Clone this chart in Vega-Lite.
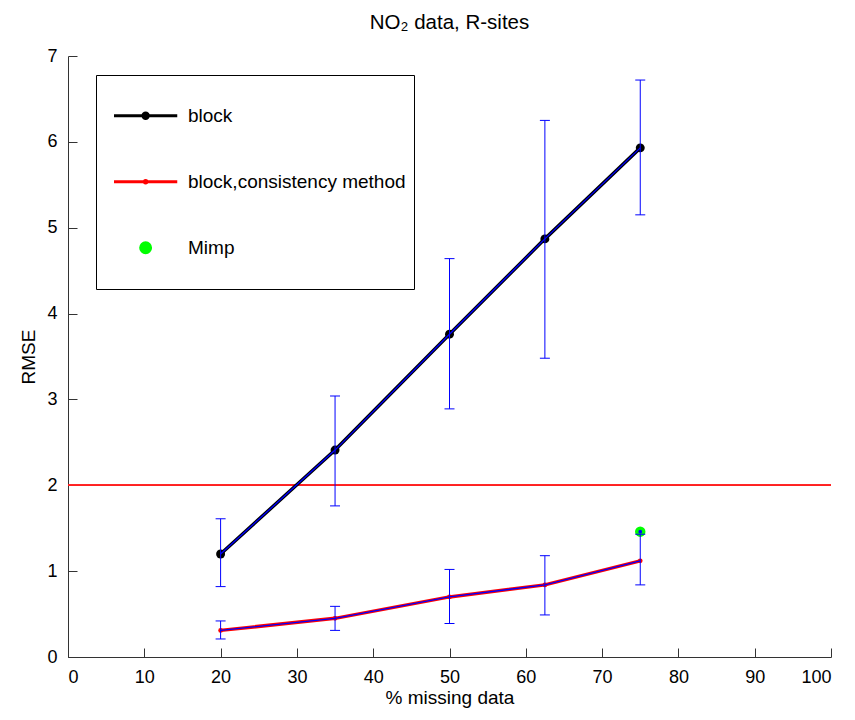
{
  "$schema": "https://vega.github.io/schema/vega-lite/v6.json",
  "width": 763,
  "height": 601,
  "autosize": {"type": "none"},
  "padding": {"left": 68, "top": 56, "right": 24, "bottom": 63},
  "background": "white",
  "title": {
    "text": "NO₂ data, R-sites",
    "font": "Liberation Sans",
    "fontSize": 20.5,
    "fontWeight": "normal",
    "color": "black",
    "offset": 14,
    "anchor": "middle"
  },
  "config": {
    "view": {"stroke": null},
    "font": "Liberation Sans",
    "axis": {
      "grid": false,
      "domainColor": "#333333",
      "domainWidth": 1,
      "tickColor": "#333333",
      "tickSize": -9,
      "labelFont": "Liberation Sans",
      "labelFontSize": 18,
      "labelColor": "black",
      "titleFont": "Liberation Sans",
      "titleFontSize": 19,
      "titleFontWeight": "normal",
      "titleColor": "black"
    },
    "legend": {
      "title": null,
      "orient": "none",
      "legendX": 28,
      "legendY": 19,
      "strokeColor": "black",
      "fillColor": "white",
      "padding": 8,
      "rowPadding": 0,
      "clipHeight": 65.5,
      "symbolSize": 4000,
      "symbolStrokeWidth": 3,
      "labelFont": "Liberation Sans",
      "labelFontSize": 19,
      "labelColor": "black",
      "labelOffset": 17,
      "labelLimit": 400
    }
  },
  "datasets": {
    "main": [
      {"series": "block", "x": 20, "y": 1.2, "lo": 0.82, "hi": 1.61},
      {"series": "block", "x": 35, "y": 2.41, "lo": 1.76, "hi": 3.04},
      {"series": "block", "x": 50, "y": 3.76, "lo": 2.89, "hi": 4.64},
      {"series": "block", "x": 62.5, "y": 4.87, "lo": 3.48, "hi": 6.25},
      {"series": "block", "x": 75, "y": 5.93, "lo": 5.15, "hi": 6.72},
      {"series": "block,consistency method", "x": 20, "y": 0.31, "lo": 0.21, "hi": 0.42},
      {"series": "block,consistency method", "x": 35, "y": 0.45, "lo": 0.31, "hi": 0.59},
      {"series": "block,consistency method", "x": 50, "y": 0.7, "lo": 0.39, "hi": 1.02},
      {"series": "block,consistency method", "x": 62.5, "y": 0.84, "lo": 0.49, "hi": 1.18},
      {"series": "block,consistency method", "x": 75, "y": 1.12, "lo": 0.84, "hi": 1.43},
      {"series": "Mimp", "x": 75, "y": 1.46}
    ]
  },
  "data": {"name": "main"},
  "encoding": {
    "x": {
      "field": "x",
      "type": "quantitative",
      "scale": {"domain": [0, 100], "nice": false, "zero": false},
      "axis": {"title": "% missing data", "values": [0,10,20,30,40,50,60,70,80,90,100], "labelPadding": 20, "titlePadding": 2}
    },
    "y": {
      "field": "y",
      "type": "quantitative",
      "scale": {"domain": [0, 7], "nice": false},
      "axis": {"title": "RMSE", "values": [0,1,2,3,4,5,6,7], "labelPadding": 20, "titlePadding": 8}
    }
  },
  "layer": [
    {
      "mark": {"type": "rule", "color": "#ff2020", "strokeWidth": 1.2},
      "encoding": {"y": {"datum": 2}, "x": {"datum": 0}, "x2": {"datum": 100}}
    },
    {
      "transform": [{"filter": "datum.series === 'block'"}],
      "mark": {"type": "line", "strokeWidth": 3.5, "color": "black"}
    },
    {
      "transform": [{"filter": "datum.series === 'block,consistency method'"}],
      "mark": {"type": "line", "strokeWidth": 3.5, "color": "#ff0000"}
    },
    {
      "transform": [{"filter": "datum.x < 0"}],
      "mark": {"type": "point", "filled": false, "opacity": 1},
      "encoding": {
        "color": {
          "field": "series",
          "type": "nominal",
          "scale": {"domain": ["block", "block,consistency method", "Mimp"], "range": ["black", "#ff0000", "#00ff00"]},
          "legend": {
            "encode": {
              "symbols": {
                "update": {
                  "strokeWidth": {"signal": "datum.value === 'Mimp' ? 0 : 3"},
                  "stroke": {"signal": "scale('color', datum.value)"},
                  "strokeOpacity": {"value": 1},
                  "fill": {"signal": "scale('color', datum.value)"},
                  "fillOpacity": {"value": 1},
                  "size": {"value": 4900},
                  "opacity": {"value": 1}
                }
              }
            }
          }
        },
        "shape": {
          "field": "series",
          "type": "nominal",
          "scale": {
            "domain": ["block", "block,consistency method", "Mimp"],
            "range": [
              "M-0.743,0H1.257M0.171,0A0.086,0.086,0,1,1,0.343,0A0.086,0.086,0,1,1,0.171,0Z",
              "M-0.743,0H1.257M0.217,0A0.04,0.04,0,1,1,0.297,0A0.04,0.04,0,1,1,0.217,0Z",
              "M0.1,0A0.157,0.157,0,1,1,0.414,0A0.157,0.157,0,1,1,0.1,0Z"
            ]
          },
          "legend": {
            "encode": {
              "symbols": {
                "update": {
                  "strokeWidth": {"signal": "datum.value === 'Mimp' ? 0 : 3"},
                  "stroke": {"signal": "scale('color', datum.value)"},
                  "strokeOpacity": {"value": 1},
                  "fill": {"signal": "scale('color', datum.value)"},
                  "fillOpacity": {"value": 1},
                  "size": {"value": 4900},
                  "opacity": {"value": 1}
                }
              }
            }
          }
        }
      }
    },
    {
      "transform": [{"filter": "datum.series === 'block'"}],
      "mark": {"type": "point", "filled": true, "opacity": 1, "size": 80, "shape": "circle"},
      "encoding": {"color": {"field": "series", "type": "nominal"}}
    },
    {
      "transform": [{"filter": "datum.series === 'block,consistency method'"}],
      "mark": {"type": "point", "filled": true, "opacity": 1, "size": 22, "shape": "circle"},
      "encoding": {"color": {"field": "series", "type": "nominal"}}
    },
    {
      "transform": [{"filter": "datum.series === 'Mimp'"}],
      "mark": {"type": "point", "filled": true, "opacity": 1, "size": 110, "shape": "circle"},
      "encoding": {"color": {"field": "series", "type": "nominal"}}
    },
    {
      "transform": [{"filter": "datum.series !== 'Mimp'"}],
      "mark": {"type": "line", "strokeWidth": 1.3, "color": "#0000ff"},
      "encoding": {"detail": {"field": "series", "type": "nominal"}}
    },
    {
      "transform": [{"filter": "isValid(datum.lo)"}],
      "mark": {"type": "rule", "color": "#0000ff", "strokeWidth": 1},
      "encoding": {"y": {"field": "lo", "type": "quantitative"}, "y2": {"field": "hi"}}
    },
    {
      "transform": [{"filter": "isValid(datum.lo)"}, {"fold": ["lo", "hi"], "as": ["end", "val"]}],
      "mark": {"type": "tick", "orient": "horizontal", "color": "#0000ff", "size": 10, "thickness": 1, "opacity": 1},
      "encoding": {"y": {"field": "val", "type": "quantitative"}}
    },
    {
      "transform": [{"filter": "datum.series === 'Mimp'"}],
      "mark": {"type": "point", "filled": true, "color": "#0000ff", "size": 14, "opacity": 1}
    }
  ]
}
